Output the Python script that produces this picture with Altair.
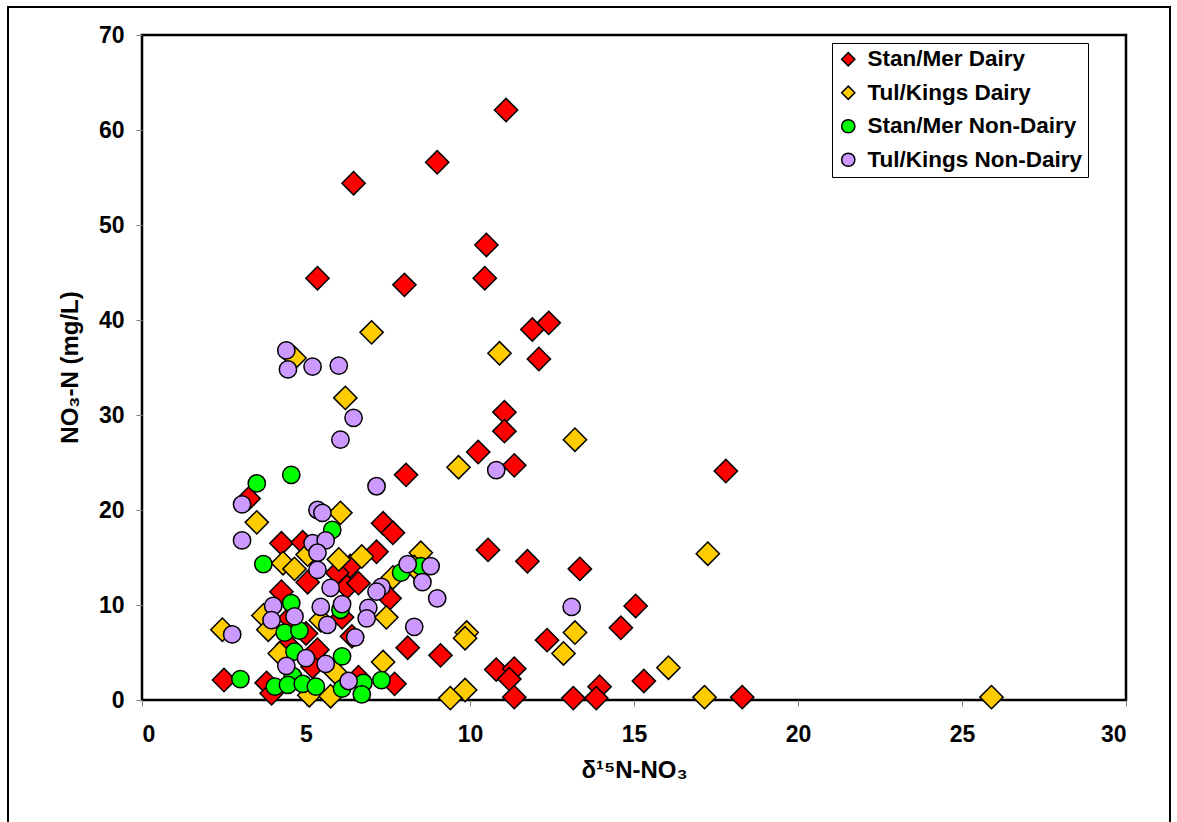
import altair as alt
import pandas as pd

# Groups, drawn in this order (later groups sit on top)
SERIES = ["Stan/Mer Dairy", "Tul/Kings Dairy", "Stan/Mer Non-Dairy", "Tul/Kings Non-Dairy"]
COLORS = ["#FF0000", "#FFCC00", "#00FF00", "#CC99FF"]
SHAPES = ["diamond", "diamond", "circle", "circle"]
DIAMOND_SIZE = 540
CIRCLE_SIZE = 300

# Stan/Mer Dairy wells: delta 15N of nitrate (permil) and NO3-N (mg/L)
stan_dairy_d15n = [11.1, 9.0, 6.45, 5.35, 8.0, 10.5, 10.45, 11.9, 12.4, 12.1,
                   11.05, 11.05, 10.25, 11.35, 17.8, 8.05, 3.25, 7.35, 7.65, 4.25,
                   4.9, 7.15, 6.35, 10.55, 11.75, 13.35, 5.95, 5.05, 6.25, 6.6,
                   4.25, 7.55, 6.1, 15.05, 14.6, 12.35, 6.4, 8.1, 9.1, 5.35,
                   5.2, 6.6, 10.8, 11.35, 11.2, 15.3, 13.95, 2.5, 3.8, 3.95,
                   7.7, 11.35, 13.15, 13.85, 18.3, 4.45, 4.5, 5.0]
stan_dairy_no3 = [62.1, 56.6, 54.4, 44.4, 43.7, 47.9, 44.4, 39.0, 39.7, 35.9,
                  30.3, 28.3, 26.1, 24.7, 24.1, 23.7, 21.2, 18.6, 17.6, 16.5,
                  16.6, 15.6, 14.1, 15.8, 14.6, 13.8, 13.4, 12.4, 11.9, 12.3,
                  11.4, 10.7, 8.7, 9.9, 7.6, 6.3, 6.7, 5.5, 4.7, 5.3,
                  3.5, 2.4, 3.2, 3.3, 2.2, 2.0, 1.4, 2.1, 1.8, 0.7,
                  1.7, 0.3, 0.2, 0.2, 0.3, 5.8, 8.6, 7.0]

# Tul/Kings Dairy wells
tul_dairy_d15n = [7.0, 10.9, 4.65, 6.2, 13.2, 9.65, 6.05, 3.5, 6.0, 6.7,
                  8.5, 17.25, 4.3, 4.65, 7.65, 3.7, 7.45, 5.45, 2.45, 3.85,
                  9.9, 9.85, 13.2, 12.85, 4.2, 7.35, 5.9, 16.05, 9.85, 9.4,
                  17.15, 5.1, 5.75, 25.9, 5.05, 8.3]
tul_dairy_no3 = [38.7, 36.5, 36.0, 31.8, 27.4, 24.5, 19.7, 18.7, 14.8, 15.1,
                 15.5, 15.4, 14.4, 13.8, 12.9, 8.9, 8.7, 8.4, 7.4, 7.4,
                 7.1, 6.5, 7.1, 4.9, 4.9, 4.0, 2.9, 3.4, 1.05, 0.2,
                 0.3, 0.5, 0.4, 0.3, 15.3, 14.0]

# Stan/Mer Non-Dairy wells
stan_nondairy_d15n = [4.55, 3.5, 5.8, 3.7, 7.9, 8.5, 4.55, 6.05, 4.35, 4.8,
                      4.65, 6.1, 4.6, 3.0, 4.05, 4.45, 4.9, 5.3, 6.1, 6.75,
                      6.7, 7.3]
stan_nondairy_no3 = [23.7, 22.8, 17.9, 14.3, 13.4, 14.1, 10.2, 9.5, 7.1, 7.3,
                     5.1, 4.6, 2.5, 2.2, 1.4, 1.6, 1.7, 1.4, 1.2, 1.8,
                     0.6, 2.1]

# Tul/Kings Non-Dairy wells
tul_nondairy_d15n = [4.4, 4.45, 5.2, 6.0, 6.45, 6.05, 7.15, 10.8, 3.05, 5.35,
                     5.5, 3.05, 5.2, 5.6, 5.35, 5.35, 8.1, 8.8, 8.55, 7.3,
                     7.15, 5.75, 4.0, 5.45, 6.1, 6.9, 6.85, 4.65, 3.95, 5.65,
                     8.3, 9.0, 13.1, 2.75, 6.5, 5.0, 4.4, 5.6, 6.3]
tul_nondairy_no3 = [36.8, 34.8, 35.1, 35.2, 29.7, 27.4, 22.5, 24.2, 20.6, 20.0,
                    19.7, 16.8, 16.5, 16.8, 15.5, 13.7, 14.3, 14.1, 12.4, 11.9,
                    11.4, 11.8, 9.9, 9.8, 10.1, 9.7, 8.6, 8.8, 8.4, 7.9,
                    7.7, 10.7, 9.8, 6.9, 6.6, 4.4, 3.6, 3.8, 2.0]

X_TICKS = [0, 5, 10, 15, 20, 25, 30]
Y_TICKS = [0, 10, 20, 30, 40, 50, 60, 70]

frames = []
for name, xs, ys in [
    (SERIES[0], stan_dairy_d15n, stan_dairy_no3),
    (SERIES[1], tul_dairy_d15n, tul_dairy_no3),
    (SERIES[2], stan_nondairy_d15n, stan_nondairy_no3),
    (SERIES[3], tul_nondairy_d15n, tul_nondairy_no3),
]:
    frames.append(pd.DataFrame({"group": name, "d15n": xs, "no3": ys}))
df = pd.concat(frames, ignore_index=True)

FONT = "Liberation Sans"

legend = alt.Legend(
    title=None,
    orient="none",
    legendX=690,
    legendY=8,
    padding=5,
    rowPadding=10.5,
    labelOffset=8,
    labelLimit=400,
    fillColor="white",
    strokeColor="black",
    symbolSize=175,
    symbolStrokeColor="black",
    symbolStrokeWidth=1.5,
    labelFont=FONT,
    labelFontSize=22.5,
    labelFontWeight="bold",
    labelColor="black",
)

x_enc = alt.X(
    "d15n:Q",
    scale=alt.Scale(domain=[0, 30], nice=False, zero=True),
    axis=alt.Axis(
        values=X_TICKS,
        title="δ¹⁵N-NO₃",
        titleX=492,
        titleY=70,
        titleBaseline="middle",
        labelPadding=17,
    ),
)
y_enc = alt.Y(
    "no3:Q",
    scale=alt.Scale(domain=[0, 70], nice=False),
    axis=alt.Axis(
        values=Y_TICKS,
        title="NO₃-N (mg/L)",
        titleX=-72,
        titleY=332,
        titleAngle=270,
        titleBaseline="middle",
        labelPadding=12,
    ),
)
color_enc = alt.Color("group:N", scale=alt.Scale(domain=SERIES, range=COLORS), legend=legend)
shape_enc = alt.Shape("group:N", scale=alt.Scale(domain=SERIES, range=SHAPES), legend=legend)

base = alt.Chart(df).encode(x=x_enc, y=y_enc, color=color_enc, shape=shape_enc)

# Dairy groups as diamonds, non-dairy groups as circles drawn above them
diamonds = base.transform_filter(
    alt.FieldOneOfPredicate(field="group", oneOf=SERIES[:2])
).mark_point(filled=True, opacity=1, stroke="black", strokeWidth=1.5, size=DIAMOND_SIZE)

circles = base.transform_filter(
    alt.FieldOneOfPredicate(field="group", oneOf=SERIES[2:])
).mark_point(filled=True, opacity=1, stroke="black", strokeWidth=1.5, size=CIRCLE_SIZE)

# Outer figure frame around the whole chart
frame = alt.Chart(pd.DataFrame({"k": [0]})).mark_rect(
    fillOpacity=0, stroke="black", strokeWidth=2
).encode(
    x=alt.value(-134),
    x2=alt.value(1028),
    y=alt.value(-28),
    y2=alt.value(800),
)

chart = alt.layer(frame, diamonds, circles).properties(
    width=984,
    height=665,
    autosize=alt.AutoSizeParams(type="none"),
    padding={"left": 142, "top": 35, "right": 51, "bottom": 122},
    background="white",
).configure_view(
    stroke="black", strokeWidth=2.5
).configure_axis(
    domain=False,
    grid=False,
    ticks=True,
    tickColor="#808080",
    tickSize=6,
    tickWidth=1,
    labelFont=FONT,
    labelFontSize=23,
    labelFontWeight="bold",
    labelColor="black",
    titleFont=FONT,
    titleFontSize=24,
    titleFontWeight="bold",
    titleColor="black",
)

chart.save("out.html", embed_options={"renderer": "svg", "actions": False})
